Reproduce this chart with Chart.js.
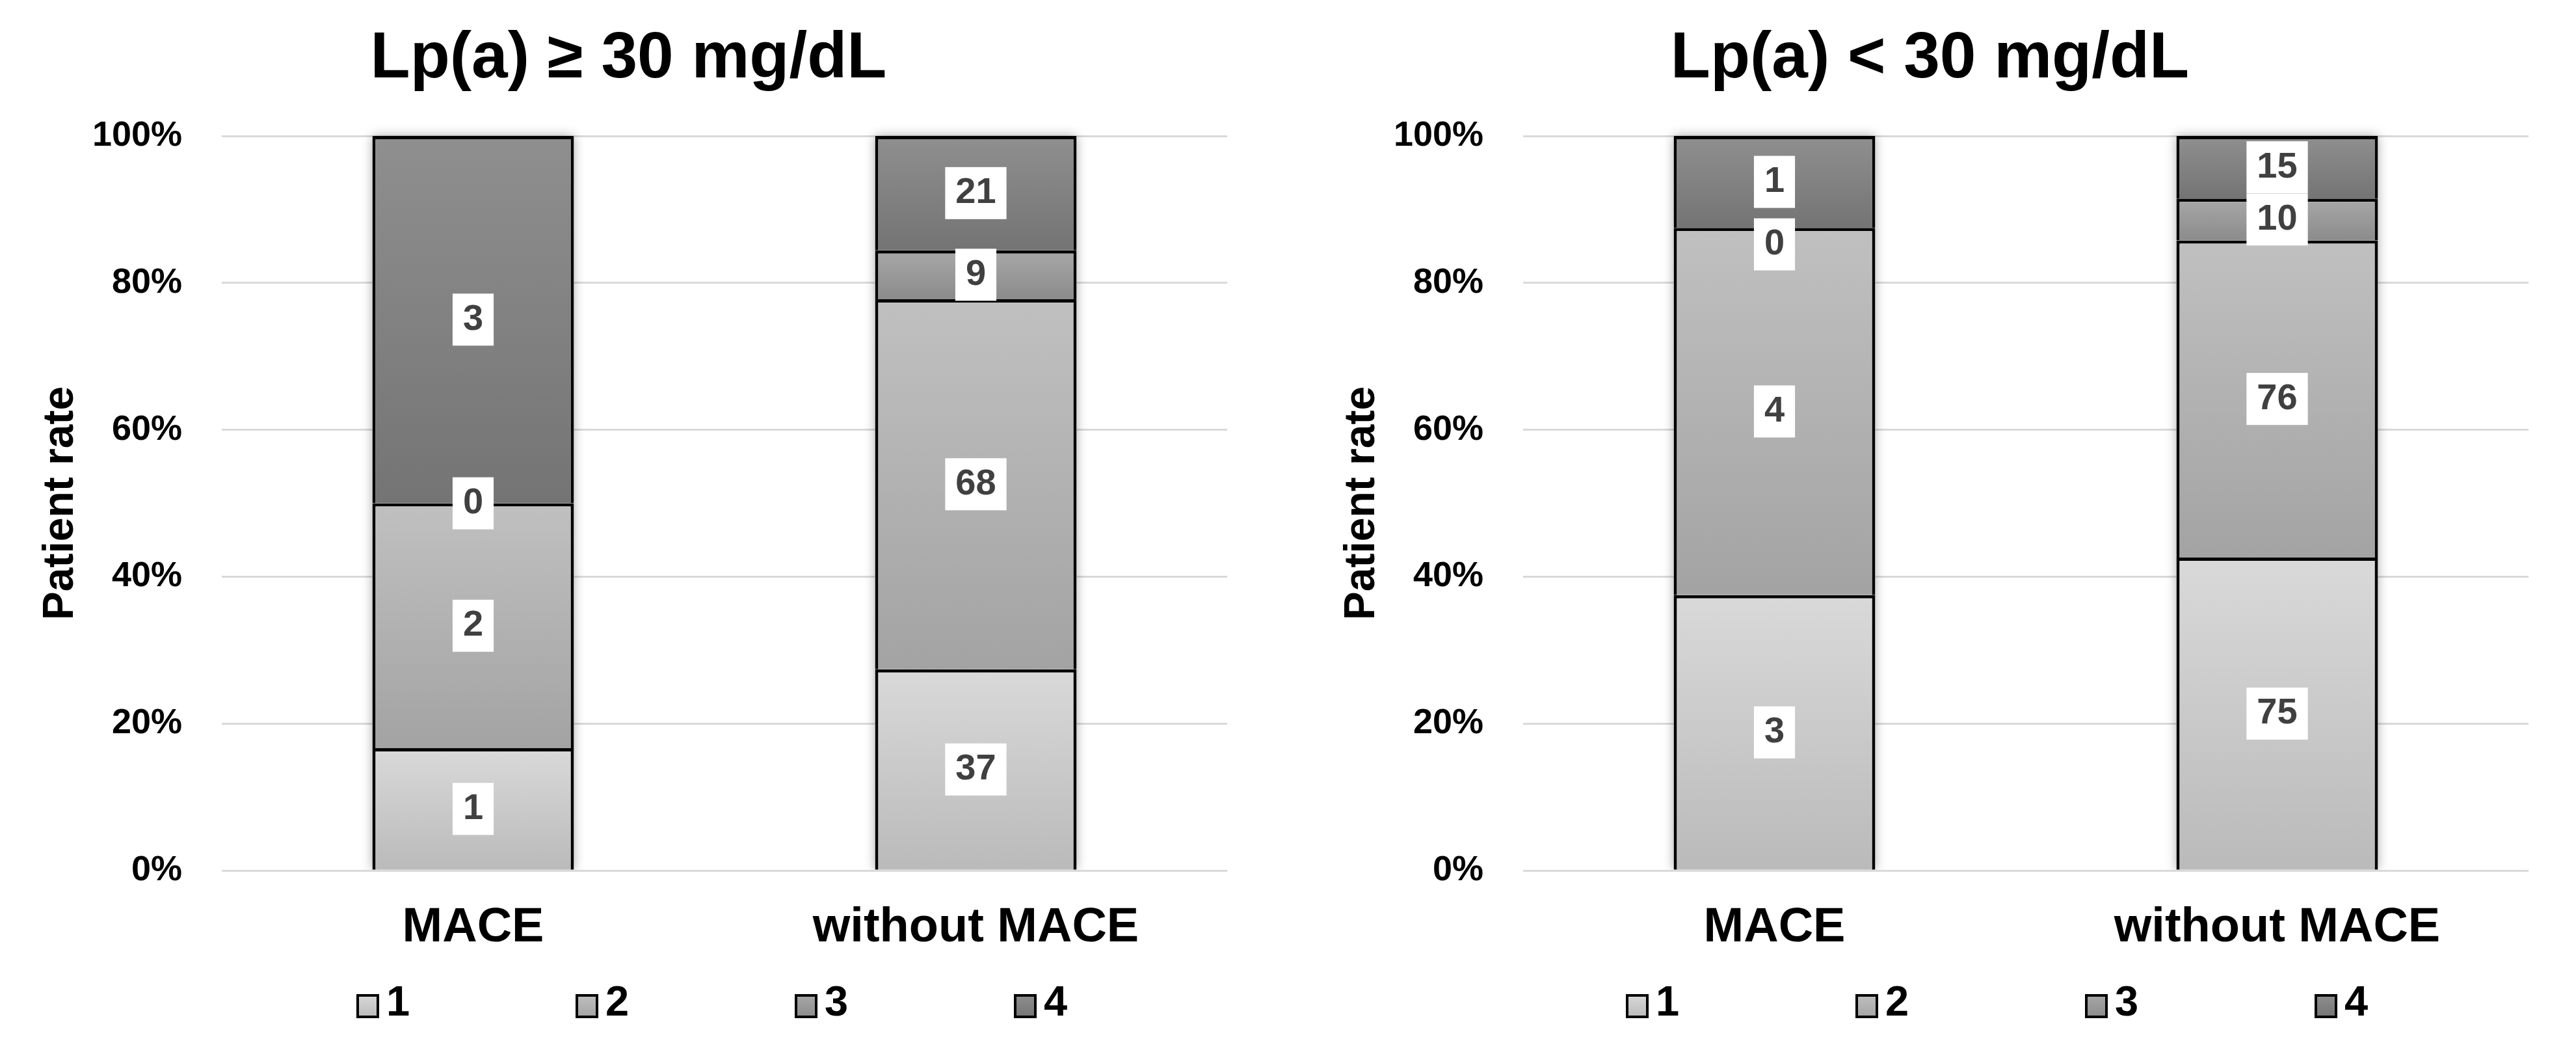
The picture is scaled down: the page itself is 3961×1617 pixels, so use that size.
<!DOCTYPE html>
<html>
<head>
<meta charset="utf-8">
<title>Lp(a) and MACE</title>
<script src="https://cdn.jsdelivr.net/npm/chart.js@4.4.1/dist/chart.umd.min.js"></script>
<style>
    html, body { margin: 0; padding: 0; background: #fff; }
    .panel { position: absolute; top: 0; width: 1960px; height: 1617px; }
    #left { left: 0; }
    #right { left: 2001px; }
</style>
</head>
<body>
<div class="panel" id="left"><canvas id="highChart"></canvas></div>
<div class="panel" id="right"><canvas id="lowChart"></canvas></div>
<script>
const categories = ['MACE', 'without MACE'];
const seriesNames = ['1', '2', '3', '4'];
const yTicks = [0, 20, 40, 60, 80, 100];

// patient counts, Lp(a) >= 30 mg/dL
const high1 = [1, 37];
const high2 = [2, 68];
const high3 = [0, 9];
const high4 = [3, 21];

// patient counts, Lp(a) < 30 mg/dL
const low1 = [3, 75];
const low2 = [4, 76];
const low3 = [0, 10];
const low4 = [1, 15];

// top / bottom colour of each segment's gradient
const shades = [
    ['#d9d9d9', '#bababa'],
    ['#c0c0c0', '#a3a3a3'],
    ['#a8a8a8', '#8b8b8b'],
    ['#8f8f8f', '#747474']
];

const FONT = '"Liberation Sans", Arial, sans-serif';

function toPercent(groups) {
    const totals = categories.map((c, i) => groups.reduce((s, g) => s + g[i], 0));
    return groups.map(g => g.map((v, i) => v / totals[i] * 100));
}

function segmentFill(context) {
    const chart = context.chart;
    const colors = shades[context.datasetIndex];
    const y = chart.scales.y;
    if (context.type !== 'data' || !y) return colors[0];
    const datasets = chart.data.datasets;
    let start = 0;
    for (let d = 0; d < context.datasetIndex; d++) {
        start += datasets[d].data[context.dataIndex];
    }
    const end = start + datasets[context.datasetIndex].data[context.dataIndex];
    const top = y.getPixelForValue(end);
    const bottom = y.getPixelForValue(start);
    if (!isFinite(top) || bottom - top < 1) return colors[0];
    const g = chart.ctx.createLinearGradient(0, top, 0, bottom);
    g.addColorStop(0, colors[0]);
    g.addColorStop(1, colors[1]);
    return g;
}

// soft shadow behind each whole stacked bar
const barShadow = {
    id: 'barShadow',
    beforeDatasetsDraw(chart) {
        const ctx = chart.ctx;
        const n = chart.data.datasets.length;
        categories.forEach((c, i) => {
            let top = Infinity, bottom = -Infinity, left = 0, width = 0;
            for (let d = 0; d < n; d++) {
                const el = chart.getDatasetMeta(d).data[i];
                top = Math.min(top, el.y);
                bottom = Math.max(bottom, el.base);
                left = el.x - el.width / 2;
                width = el.width;
            }
            ctx.save();
            ctx.beginPath();
            ctx.rect(0, 0, chart.width, bottom);
            ctx.clip();
            ctx.shadowColor = 'rgba(0, 0, 0, 0.35)';
            ctx.shadowBlur = 16;
            ctx.fillStyle = '#fff';
            ctx.fillRect(left, top, width, bottom - top);
            ctx.restore();
        });
    }
};

// white boxed count labels in the middle of each segment
const segmentLabels = {
    id: 'segmentLabels',
    afterDatasetsDraw(chart) {
        const ctx = chart.ctx;
        const datasets = chart.data.datasets;
        ctx.save();
        ctx.font = 'bold 56px ' + FONT;
        ctx.textAlign = 'center';
        ctx.textBaseline = 'middle';
        categories.forEach((c, i) => {
            let prevBottom = -Infinity;
            for (let d = datasets.length - 1; d >= 0; d--) {
                const el = chart.getDatasetMeta(d).data[i];
                const text = String(datasets[d].counts[i]);
                const w = ctx.measureText(text).width + 32;
                const h = 80;
                let cy = (el.y + el.base) / 2;
                if (cy - h / 2 < prevBottom) cy = prevBottom + 16 + h / 2;
                ctx.fillStyle = '#fff';
                ctx.fillRect(el.x - w / 2, cy - h / 2, w, h);
                ctx.fillStyle = '#404040';
                ctx.fillText(text, el.x, cy);
                prevBottom = cy + h / 2;
            }
        });
        ctx.restore();
    }
};

// spread-out legend like the original figure
const boxLegend = {
    id: 'boxLegend',
    afterDraw(chart, args, opts) {
        const ctx = chart.ctx;
        ctx.save();
        ctx.font = 'bold 65px ' + FONT;
        ctx.textBaseline = 'middle';
        ctx.textAlign = 'left';
        chart.data.datasets.forEach((ds, d) => {
            const x = opts.left + d * opts.gap;
            const top = opts.y - 18;
            const g = ctx.createLinearGradient(0, top, 0, top + 37);
            g.addColorStop(0, shades[d][0]);
            g.addColorStop(1, shades[d][1]);
            ctx.fillStyle = '#000';
            ctx.fillRect(x, top, 35, 37);
            ctx.fillStyle = g;
            ctx.fillRect(x + 4, top + 4, 27, 29);
            ctx.fillStyle = '#000';
            ctx.fillText(ds.label, x + 46, opts.y - 3);
        });
        ctx.restore();
    }
};

function makeChart(canvasId, title, groups, legendLeft, legendGap) {
    const percents = toPercent(groups);
    const ctx = document.getElementById(canvasId).getContext('2d');
    return new Chart(ctx, {
        type: 'bar',
        data: {
            labels: categories,
            datasets: seriesNames.map((name, d) => ({
                label: name,
                data: percents[d],
                counts: groups[d],
                backgroundColor: segmentFill,
                borderColor: '#000',
                borderWidth: 5,
                barPercentage: 0.401,
                categoryPercentage: 1
            }))
        },
        options: {
            responsive: true,
            maintainAspectRatio: false,
            animation: false,
            layout: {
                padding: { top: 0, left: 46, right: 73, bottom: 110 }
            },
            plugins: {
                legend: { display: false },
                tooltip: { enabled: false },
                title: {
                    display: true,
                    text: title,
                    color: '#000',
                    font: { family: FONT, size: 100, weight: 'bold' },
                    padding: { top: 31, bottom: 58 }
                },
                boxLegend: { left: legendLeft, gap: legendGap, y: 1546 }
            },
            scales: {
                x: {
                    stacked: true,
                    grid: { display: false },
                    border: { display: false },
                    ticks: {
                        color: '#000',
                        padding: 36,
                        font: { family: FONT, size: 74, weight: 'bold' }
                    }
                },
                y: {
                    stacked: true,
                    min: yTicks[0],
                    max: yTicks[yTicks.length - 1],
                    afterBuildTicks: axis => { axis.ticks = yTicks.map(v => ({ value: v })); },
                    afterFit: scale => { scale.width = 295; },
                    grid: { color: '#d9d9d9', lineWidth: 3, drawTicks: false },
                    border: { display: false },
                    ticks: {
                        color: '#000',
                        padding: 61,
                        font: { family: FONT, size: 54, weight: 'bold' },
                        callback: v => v + '%'
                    },
                    title: {
                        display: true,
                        text: 'Patient rate',
                        color: '#000',
                        padding: { top: 8, bottom: 0 },
                        font: { family: FONT, size: 66, weight: 'bold' }
                    }
                }
            }
        },
        plugins: [barShadow, segmentLabels, boxLegend]
    });
}

document.addEventListener('DOMContentLoaded', function() {
    makeChart('highChart', 'Lp(a) \u2265 30 mg/dL', [high1, high2, high3, high4], 548, 337);
    makeChart('lowChart', 'Lp(a) < 30 mg/dL', [low1, low2, low3, low4], 499, 353);
});
</script>
</body>
</html>
